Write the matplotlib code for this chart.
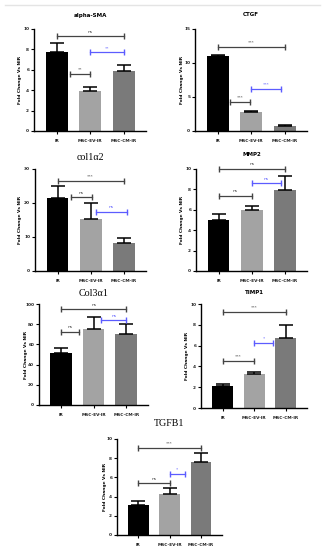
import matplotlib
matplotlib.use('Agg')
import matplotlib.pyplot as plt
from matplotlib.lines import Line2D

# data
groups = ['IR', 'MSC-EV-IR', 'MSC-CM-IR']

sma_mean = [7.7, 3.9, 5.9]
sma_err = [0.9, 0.4, 0.6]
ctgf_mean = [11.0, 2.8, 0.75]
ctgf_err = [0.15, 0.12, 0.1]
col1a2_mean = [21.5, 15.4, 8.1]
col1a2_err = [3.4, 4.6, 1.5]
mmp2_mean = [5.0, 6.0, 7.95]
mmp2_err = [0.6, 0.4, 1.35]
col3a1_mean = [51, 75, 70.5]
col3a1_err = [5, 12, 9.5]
timp1_mean = [2.1, 3.25, 6.75]
timp1_err = [0.25, 0.2, 1.25]
tgfb1_mean = [3.1, 4.3, 7.6]
tgfb1_err = [0.45, 0.55, 0.9]

# significance brackets: (x0, x1, y, label, blue?)
sma_sig = [(0, 2, 9.3, 'ns', False), (1, 2, 7.7, '**', True), (0.4, 1, 5.6, '**', False)]
ctgf_sig = [(0, 2, 12.3, '***', False), (1, 1.9, 6.2, '***', True), (0.37, 0.97, 4.3, '***', False)]
col1a2_sig = [(0, 2, 26.4, '***', False), (0.4, 1.03, 21.7, 'ns', False), (1.15, 2.1, 17.4, 'ns', True)]
mmp2_sig = [(0, 2, 10.0, 'ns', False), (1, 1.9, 8.6, 'ns', True), (0, 1, 7.4, 'ns', False)]
col3a1_sig = [(0, 2, 95, 'ns', False), (0, 0.56, 72.5, 'ns', False), (1.23, 2, 84, 'ns', True)]
timp1_sig = [(0, 2, 9.2, '***', False), (0, 1, 4.5, '***', False), (1, 1.6, 6.25, '*', True)]
tgfb1_sig = [(0, 2, 9.1, '***', False), (0, 1, 5.4, 'ns', False), (1, 1.5, 6.4, '*', True)]

bar_colors = ['#000000', '#a3a3a3', '#7a7a7a']
W, H = 325, 550

fig = plt.figure(figsize=(W / 100, H / 100), dpi=100)


def panel(box, mean, err, sig, ymax, yticks, title, serif, title_y, ylab_x):
    left, right, top, bottom = box
    ax = fig.add_axes([left / W, 1 - bottom / H, (right - left) / W, (bottom - top) / H])
    x = range(len(groups))
    ax.bar(x, mean, width=0.66, color=bar_colors, zorder=2)
    ax.errorbar(x, mean, yerr=[[0] * 3, err], fmt='none', ecolor='black',
                elinewidth=1.1, capsize=5, capthick=1.1, zorder=3)
    for x0, x1, y, lab, blue in sig:
        c = '#5c5cff' if blue else '#444444'
        ax.plot([x0, x1], [y, y], color=c, lw=0.9, marker='|', markersize=4,
                mew=1.0, zorder=4, clip_on=False)
        ax.text((x0 + x1) / 2, y + ymax * 0.025, lab, ha='center', va='bottom',
                fontsize=3.2, color=c)
    ax.set_xlim(-0.68, 2.67)
    ax.set_ylim(0, ymax)
    ax.set_yticks(yticks)
    ax.set_xticks(list(x))
    ax.set_xticklabels(groups)
    for s in ['top', 'right']:
        ax.spines[s].set_visible(False)
    for s in ['left', 'bottom']:
        ax.spines[s].set_linewidth(1.0)
    ax.tick_params(axis='both', labelsize=3.1, length=2, width=0.8, pad=1.5,
                   labelcolor='#222222')
    for t in ax.get_xticklabels() + ax.get_yticklabels():
        t.set_fontweight('bold')
    ax.tick_params(axis='x', pad=3.5)
    cx = (left + right) / 2
    if serif:
        fig.text(cx / W, 1 - title_y / H, title, ha='center', va='center',
                 fontsize=7.2, family='Liberation Serif')
    else:
        fig.text(cx / W, 1 - title_y / H, title, ha='center', va='center',
                 fontsize=4, fontweight='bold')
    fig.text(ylab_x / W, 1 - (top + bottom) / 2 / H, 'Fold Change Vs NIR',
             rotation=90, ha='center', va='center', fontsize=3.2, fontweight='bold')
    return ax


panel((34, 146, 29, 131), sma_mean, sma_err, sma_sig, 10, [0, 2, 4, 6, 8, 10],
      'alpha-SMA', False, 15, 20)
panel((195, 307, 29, 131), ctgf_mean, ctgf_err, ctgf_sig, 15, [0, 5, 10, 15],
      'CTGF', False, 15, 182)
panel((35, 146, 169, 271), col1a2_mean, col1a2_err, col1a2_sig, 30, [0, 10, 20, 30],
      'col1α2', True, 157, 20)
panel((196, 307, 169, 271), mmp2_mean, mmp2_err, mmp2_sig, 10, [0, 2, 4, 6, 8, 10],
      'MMP2', False, 154, 182)
panel((39, 148, 304, 405), col3a1_mean, col3a1_err, col3a1_sig, 100, [0, 20, 40, 60, 80, 100],
      'Col3α1', True, 293, 26)
panel((201, 307, 304, 408), timp1_mean, timp1_err, timp1_sig, 10, [0, 2, 4, 6, 8, 10],
      'TIMP1', False, 292, 187)
panel((117, 222, 439, 535), tgfb1_mean, tgfb1_err, tgfb1_sig, 10, [0, 2, 4, 6, 8, 10],
      'TGFB1', True, 423, 105)

# faint border line at the top of the figure
fig.add_artist(Line2D([5 / W, 320 / W], [1 - 5 / H, 1 - 5 / H], color='#e4e4e4', lw=1))

fig.savefig('out.png', dpi=100)
